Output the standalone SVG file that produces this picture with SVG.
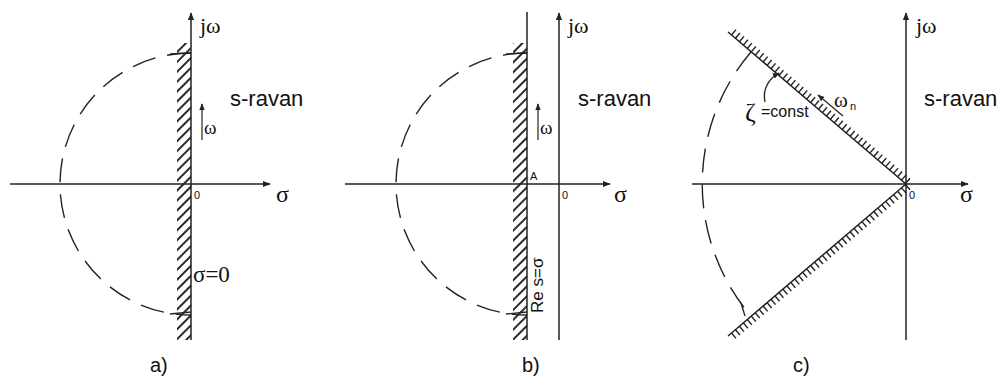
<svg xmlns="http://www.w3.org/2000/svg" width="1004" height="376" viewBox="0 0 1004 376">
<style>
.ax{stroke:#222;stroke-width:1.5;fill:none}
.dash{stroke:#222;stroke-width:1.4;fill:none;stroke-dasharray:24 12}
.tk{stroke:#222;stroke-width:1.3;fill:none}
.tick{stroke:#222;stroke-width:7;fill:none;stroke-dasharray:1.4 3.8}
.serif{font-family:"Liberation Serif",serif;fill:#111}
.sans{font-family:"Liberation Sans",Arial,sans-serif;fill:#111}
</style>
<defs>
<marker id="ah" viewBox="0 0 10 10" refX="9" refY="5" markerWidth="8" markerHeight="8" markerUnits="userSpaceOnUse" orient="auto">
<path d="M0,1 L10,5 L0,9 z" fill="#222"/>
</marker>
<marker id="ahs" viewBox="0 0 10 10" refX="9" refY="5" markerWidth="7" markerHeight="7" markerUnits="userSpaceOnUse" orient="auto">
<path d="M0,1 L10,5 L0,9 z" fill="#222"/>
</marker>
<pattern id="hatch" patternUnits="userSpaceOnUse" width="7" height="7" patternTransform="rotate(45)">
<line x1="1" y1="0" x2="1" y2="7" stroke="#111" stroke-width="1.8"/>
</pattern>
</defs>

<g id="panel-a">
<rect x="177" y="43" width="14" height="297" fill="url(#hatch)"/>
<path class="dash" d="M191,53 A131,131 0 0 0 191,315"/>
<line class="tk" x1="170" y1="54" x2="191" y2="53"/>
<line class="tk" x1="170" y1="314" x2="191" y2="312"/>
<line class="ax" x1="10" y1="184" x2="270" y2="184" marker-end="url(#ah)"/>
<line class="ax" x1="191" y1="340" x2="191" y2="13" marker-end="url(#ah)"/>
<line class="ax" x1="202" y1="140" x2="202" y2="104" marker-end="url(#ahs)" style="stroke-width:1.2"/>
<text class="serif" x="200" y="33" font-size="22">jω</text>
<text class="sans" x="230" y="106" font-size="22">s-ravan</text>
<text class="serif" x="204" y="134" font-size="19">ω</text>
<text class="sans" x="194" y="199" font-size="11">0</text>
<text class="serif" x="276" y="202" font-size="24">σ</text>
<text class="serif" x="193" y="282" font-size="23">σ=0</text>
<text class="sans" x="150" y="372" font-size="20">a)</text>
</g>

<g id="panel-b">
<rect x="513" y="43" width="14" height="297" fill="url(#hatch)"/>
<path class="dash" d="M527,53 A131,131 0 0 0 527,315"/>
<line class="tk" x1="506" y1="54" x2="527" y2="53"/>
<line class="tk" x1="506" y1="314" x2="527" y2="312"/>
<line class="ax" x1="345" y1="184" x2="610" y2="184" marker-end="url(#ah)"/>
<line class="ax" x1="527" y1="340" x2="527" y2="12"/>
<line class="ax" x1="559" y1="340" x2="559" y2="13" marker-end="url(#ah)"/>
<line class="ax" x1="538" y1="140" x2="538" y2="104" marker-end="url(#ahs)" style="stroke-width:1.2"/>
<text class="serif" x="568" y="33" font-size="22">jω</text>
<text class="sans" x="578" y="106" font-size="22">s-ravan</text>
<text class="serif" x="540" y="134" font-size="19">ω</text>
<text class="sans" x="530" y="180" font-size="11">A</text>
<text class="sans" x="562" y="199" font-size="11">0</text>
<text class="serif" x="614" y="202" font-size="24">σ</text>
<text class="sans" transform="translate(543,313) rotate(-90)" font-size="17">Re s=σ</text>
<text class="sans" x="522" y="372" font-size="20">b)</text>
</g>

<g id="panel-c">
<path class="dash" d="M751,52 A203,203 0 0 0 751,316"/>
<g transform="translate(906,184) rotate(-139.5)">
<line class="ax" x1="0" y1="0" x2="234" y2="0"/>
<line class="tick" x1="0" y1="3.5" x2="234" y2="3.5"/>
</g>
<g transform="translate(906,184) rotate(139.5)">
<line class="ax" x1="0" y1="0" x2="234" y2="0"/>
<line class="tick" x1="0" y1="-3.5" x2="234" y2="-3.5"/>
</g>
<line class="tk" x1="741" y1="303" x2="745" y2="316"/>
<line class="ax" x1="692" y1="184" x2="968" y2="184" marker-end="url(#ah)"/>
<line class="ax" x1="906" y1="340" x2="906" y2="13" marker-end="url(#ah)"/>
<path class="tk" d="M765,102 C762,88 770,78 779,73" marker-end="url(#ahs)"/>
<line class="ax" x1="843" y1="116" x2="818" y2="95" marker-end="url(#ahs)" style="stroke-width:1.2"/>
<text class="serif" x="916" y="33" font-size="22">jω</text>
<text class="sans" x="924" y="106" font-size="22">s-ravan</text>
<text class="serif" x="745" y="121" font-size="26">ζ</text>
<text class="sans" x="761" y="117" font-size="16">=const</text>
<text class="serif" x="834" y="107" font-size="21">ω</text>
<text class="sans" x="850" y="110" font-size="11">n</text>
<text class="sans" x="909" y="199" font-size="11">0</text>
<text class="serif" x="960" y="202" font-size="24">σ</text>
<text class="sans" x="793" y="372" font-size="20">c)</text>
</g>
</svg>
